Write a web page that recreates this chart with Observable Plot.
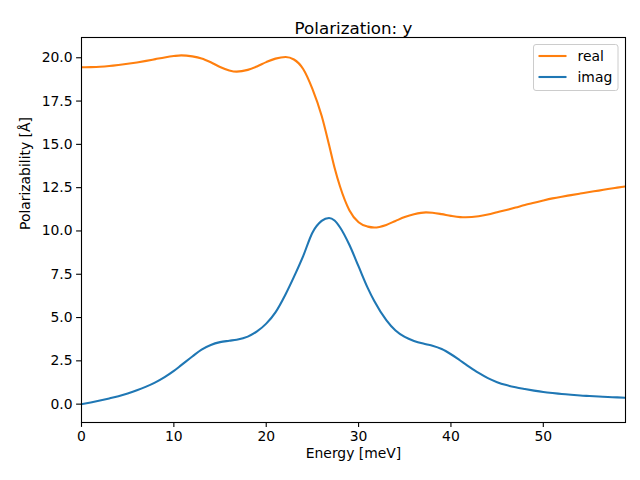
<!DOCTYPE html>
<html>
<head>
<meta charset="utf-8">
<script src="https://cdn.jsdelivr.net/npm/d3@7"></script>
<script src="https://cdn.jsdelivr.net/npm/@observablehq/plot@0.6"></script>
<style>
  html, body { margin: 0; padding: 0; background: #fff; }
  #chart { position: relative; width: 640px; height: 480px; }
</style>
</head>
<body>
<div id="chart"></div>
<script>
const titleText = "Polarization: y";
const xLabel = "Energy [meV]";
const yLabel = "Polarizability [Å]";
const seriesNames = ["real", "imag"];
const seriesColors = ["#ff7f0e", "#1f77b4"];
const xTicks = [0, 10, 20, 30, 40, 50];
const yTicks = [0, 2.5, 5, 7.5, 10, 12.5, 15, 17.5, 20];

const energy = [0,1,2,3,4,5,6,7,8,9,10,10.8,12,13,14,15,16,16.8,18,19,20,21,22.1,23,24,25,26,26.8,27.4,28,29,30,31,31.7,33,34,35,36,37.3,38,39,40,41,41.6,43,44,45,46,47,48,49,50,51,52,53,54,55,56,57,58,58.9];
const realVals = [19.45,19.46,19.48,19.52,19.58,19.65,19.73,19.82,19.92,20.02,20.1,20.14,20.08,19.96,19.74,19.47,19.27,19.2,19.3,19.5,19.75,19.95,20.04,19.9,19.35,18.2,16.65,14.98,13.65,12.55,11.2,10.5,10.25,10.2,10.35,10.58,10.8,10.96,11.07,11.05,10.97,10.87,10.8,10.79,10.85,10.95,11.08,11.21,11.35,11.5,11.63,11.76,11.88,11.98,12.07,12.16,12.25,12.33,12.42,12.5,12.57];
const imagVals = [0,0.1,0.21,0.33,0.46,0.62,0.8,1.01,1.26,1.56,1.92,2.25,2.75,3.15,3.42,3.58,3.66,3.72,3.9,4.2,4.65,5.3,6.35,7.35,8.55,9.9,10.58,10.75,10.6,10.2,9.2,7.95,6.7,5.95,4.85,4.25,3.88,3.65,3.46,3.37,3.18,2.88,2.52,2.3,1.8,1.5,1.27,1.1,0.97,0.87,0.78,0.7,0.64,0.59,0.54,0.5,0.47,0.44,0.41,0.39,0.37];

const data = [];
energy.forEach((e, i) => {
  data.push({x: e, y: realVals[i], s: seriesNames[0]});
});
energy.forEach((e, i) => {
  data.push({x: e, y: imagVals[i], s: seriesNames[1]});
});

const font = "DejaVu Sans, sans-serif";
const fs = 13.9;

const plot = Plot.plot({
  width: 640,
  height: 480,
  marginLeft: 81,
  marginRight: 15,
  marginTop: 37,
  marginBottom: 58,
  style: {fontFamily: font, fontSize: fs + "px", background: "white", color: "black"},
  x: {domain: [0, 58.9]},
  y: {domain: [-1.06, 21.17]},
  color: {domain: seriesNames, range: seriesColors},
  marks: [
    Plot.line(data, {x: "x", y: "y", stroke: "s", z: "s", strokeWidth: 2.1, curve: "monotone-x", clip: true}),
    Plot.axisX({ticks: xTicks, tickSize: 4.9, tickPadding: 4, tickFormat: d3.format("d"), fontSize: fs, label: null, strokeWidth: 1.1}),
    Plot.axisY({ticks: yTicks, tickSize: 4.9, tickPadding: 4, tickFormat: d3.format(".1f"), fontSize: fs, label: null, strokeWidth: 1.1}),
    Plot.frame({stroke: "black", strokeWidth: 1.1}),
    Plot.text([xLabel], {frameAnchor: "bottom", dy: 35, fontSize: fs, fill: "black"}),
    Plot.text([yLabel], {frameAnchor: "left", dx: -56, rotate: -90, fontSize: fs, fill: "black"}),
    Plot.text([titleText], {frameAnchor: "top", dy: -15, fontSize: 16.7, fill: "black"})
  ]
});

document.getElementById("chart").appendChild(plot);

// Legend (upper right, matplotlib style)
const svg = d3.select(plot);
const lg = svg.append("g").attr("font-family", font).attr("font-size", fs + "px").attr("text-anchor", "start");
lg.append("rect")
  .attr("x", 533.5).attr("y", 44.5).attr("width", 84.5).attr("height", 46)
  .attr("rx", 2.5).attr("fill", "white").attr("fill-opacity", 0.8)
  .attr("stroke", "#cccccc").attr("stroke-width", 1);
seriesNames.forEach((name, i) => {
  const cy = 56 + i * 21;
  lg.append("line").attr("x1", 538.5).attr("x2", 566.5).attr("y1", cy).attr("y2", cy)
    .attr("stroke", seriesColors[i]).attr("stroke-width", 2.1);
  lg.append("text").attr("x", 577.5).attr("y", cy).attr("dy", "0.35em")
    .attr("text-anchor", "start").attr("fill", "black").text(name);
});
</script>
</body>
</html>
